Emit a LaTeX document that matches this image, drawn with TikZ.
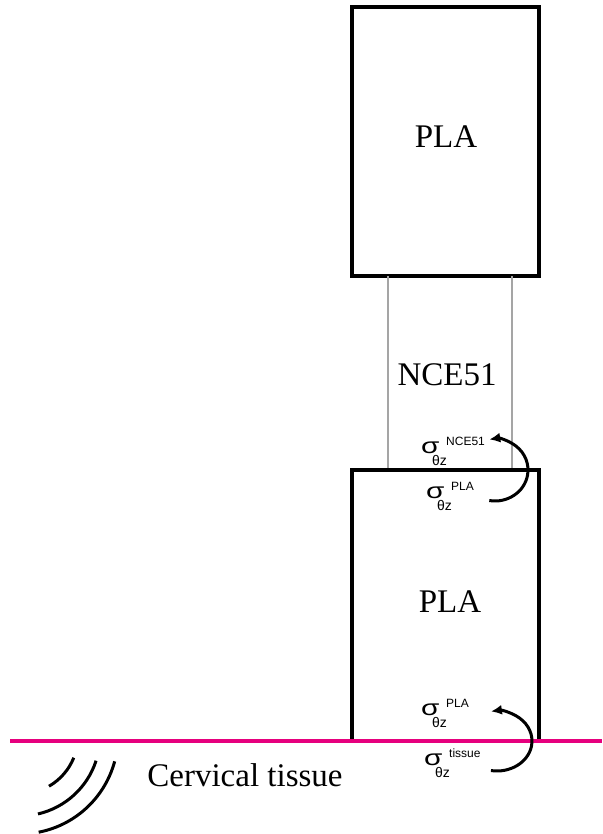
\documentclass[tikz,border=0pt]{standalone}
\usepackage{fontspec}
\setmainfont{Liberation Serif}
\newfontfamily\stressfont{Liberation Sans}
\usetikzlibrary{arrows.meta}

\definecolor{tissuepink}{RGB}{230,0,126}
\definecolor{wiregrey}{RGB}{165,165,165}

% shear stress symbol: sigma, subscript theta z, superscript material
\newcommand{\stress}[1]{\stressfont
  \makebox[0pt][l]{\scalebox{1.35}[1]{\fontsize{22}{22}\selectfont σ}}%
  \hspace{11pt}\makebox[0pt][l]{\raisebox{-12pt}{\fontsize{14}{14}\selectfont θz}}%
  \hspace{14pt}\raisebox{8pt}{\fontsize{12}{12}\selectfont #1}}

\tikzset{
  block/.style={line width=3.5pt},
  wire/.style={line width=2.5pt, wiregrey},
  twist/.style={line width=3pt, -{Latex[length=11pt,width=10pt]}},
  wave/.style={line width=3pt},
  material/.style={font=\fontsize{33}{33}\selectfont},
  stresslabel/.style={anchor=base west, inner sep=0pt}
}

\begin{document}
\begin{tikzpicture}[x=1pt,y=1pt]
	\useasboundingbox (0,0) rectangle (602,834);

	% upper PLA block
	\draw[block] (352,558) rectangle (539,827);
	\node[material] (plaTop) at (446,697) {PLA};

	% NCE51 layer
	\draw[wire] (388,558) -- (388,364);
	\draw[wire] (512,558) -- (512,364);
	\node[material] (nce) at (447,459) {NCE51};

	% lower PLA block
	\draw[block] (352,93) rectangle (539,364);
	\node[material] (plaBottom) at (450,232) {PLA};

	% tissue surface
	\draw[line width=3.5pt, tissuepink] (10,93) -- (602,93);
	\node[material] (tissue) at (245,59) {Cervical tissue};

	% waves
	\coordinate (waveC) at (20,98);
	\foreach \r/\a/\b in {58/-22/-60, 80/-18/-77, 98/-15/-79}
		\draw[wave] (waveC) ++(\a:\r) arc[start angle=\a, end angle=\b, radius=\r];

	% stresses at the NCE51 / PLA interface
	\coordinate (twistUp) at (495,364);
	\draw[twist] (twistUp) ++(-100:33 and 31) arc[start angle=-100, end angle=100, x radius=33, y radius=31];
	\node[stresslabel] (sigNce) at (421,380) {\stress{NCE51}};
	\node[stresslabel] (sigPlaUp) at (426,335) {\stress{PLA}};

	% stresses at the PLA / tissue interface
	\coordinate (twistLow) at (497,93);
	\draw[twist] (twistLow) ++(-100:35 and 30) arc[start angle=-100, end angle=100, x radius=35, y radius=30];
	\node[stresslabel] (sigPlaLow) at (421,118) {\stress{PLA}};
	\node[stresslabel] (sigTissue) at (424,68) {\stress{tissue}};
\end{tikzpicture}
\end{document}
